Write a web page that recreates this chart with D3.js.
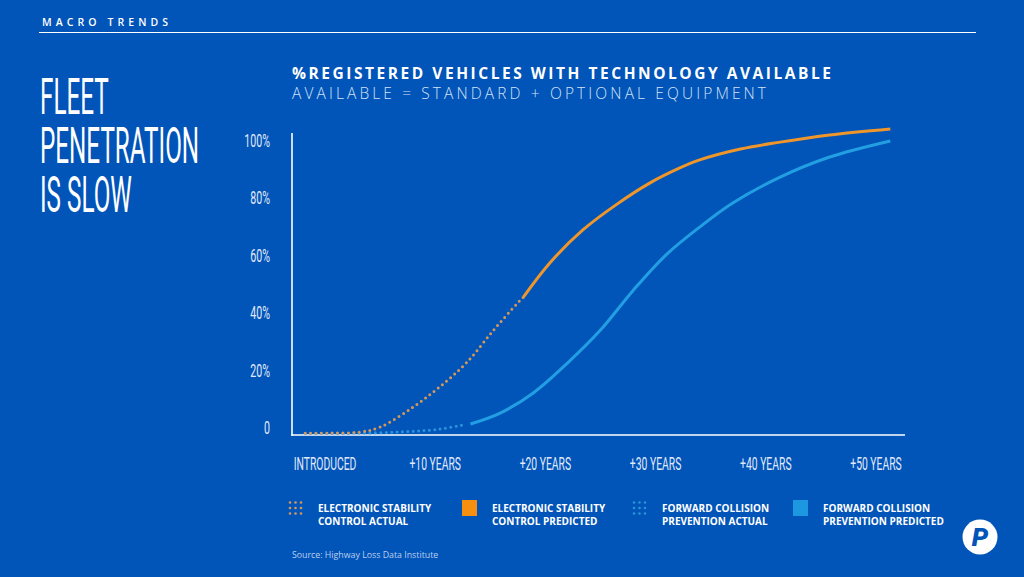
<!DOCTYPE html>
<html>
<head>
<meta charset="utf-8">
<script src="https://cdn.jsdelivr.net/npm/d3@7"></script>
<style>
  html, body { margin: 0; padding: 0; background: #0154b8; }
  svg { display: block; }
</style>
</head>
<body>
<svg id="chart" width="1024" height="577"></svg>
<script>
// ---------- DATA ----------
const xTickValues = [0, 10, 20, 30, 40, 50];
const xTickLabels = ["INTRODUCED", "+10 YEARS", "+20 YEARS", "+30 YEARS", "+40 YEARS", "+50 YEARS"];
const yTickValues = [0, 20, 40, 60, 80, 100];
const yTickLabels = ["0", "20%", "40%", "60%", "80%", "100%"];

// years since introduction
const escActualYears   = [-1.8, 0.5, 3.2, 5.0, 8.0, 10.4, 12.9, 15.3, 17.4, 18.0];
const escActualValues  = [0.3, 0.3, 0.7, 2.4, 9.4, 16.4, 25.1, 36.2, 45.3, 47.7];
const escPredYears     = [18.0, 20.4, 23.4, 26.5, 29.5, 32.2, 34.0, 37.7, 41.3, 45.8, 51.3];
const escPredValues    = [47.7, 59.6, 71.1, 80.1, 87.5, 92.7, 95.5, 99.3, 101.7, 104.2, 106.3];
const fcpActualYears   = [-1.8, 2.3, 6.8, 10.4, 12.4];
const fcpActualValues  = [0.3, 0.3, 0.7, 1.7, 3.1];
const fcpPredYears     = [13.2, 15.9, 18.9, 22.0, 25.0, 28.0, 31.0, 34.0, 37.0, 41.3, 45.8, 51.3];
const fcpPredValues    = [3.5, 7.3, 14.3, 24.7, 36.2, 50.2, 62.6, 72.1, 80.5, 89.5, 96.5, 102.1];

const legendLabels = [
  ["ELECTRONIC STABILITY", "CONTROL ACTUAL"],
  ["ELECTRONIC STABILITY", "CONTROL PREDICTED"],
  ["FORWARD COLLISION", "PREVENTION ACTUAL"],
  ["FORWARD COLLISION", "PREVENTION PREDICTED"]
];

const titleLines = ["FLEET", "PENETRATION", "IS SLOW"];

// ---------- STYLE ----------
const C = {
  bg: "#0154b8",
  orange: "#ee962b",
  orangeDot: "#d6985a",
  orangeSwatch: "#f78f10",
  blue: "#229fe3",
  blueDot: "#2b93dc",
  blueSwatch: "#1b98e0",
  white: "#ffffff",
  pale: "#e0eaf8"
};
const condensed = "Roboto, 'DejaVu Sans', sans-serif";
const geo = "'Open Sans', Lato, 'DejaVu Sans', sans-serif";

const svg = d3.select("#chart");
svg.append("rect").attr("width", 1024).attr("height", 577).attr("fill", C.bg);

// header
svg.append("text")
  .attr("x", 42).attr("y", 25.5)
  .attr("font-family", geo).attr("font-weight", 600).attr("font-size", 10.5)
  .attr("fill", C.white)
  .attr("textLength", 126).attr("lengthAdjust", "spacing")
  .text("MACRO TRENDS");
svg.append("line")
  .attr("x1", 39).attr("x2", 976).attr("y1", 32.5).attr("y2", 32.5)
  .attr("stroke", C.white).attr("stroke-width", 1.2);

// big title (condensed via horizontal scaling), one text block
const titleScale = 0.485;
svg.append("text")
  .attr("transform", `translate(40,113.5) scale(${titleScale},1)`)
  .attr("font-family", condensed).attr("font-weight", 400).attr("font-size", 50)
  .attr("fill", C.white)
  .selectAll("tspan").data(titleLines).join("tspan")
  .attr("x", 0).attr("dy", (d, i) => i === 0 ? 0 : 49.5)
  .text(d => d);

// chart headings
svg.append("text")
  .attr("x", 292).attr("y", 79)
  .attr("font-family", geo).attr("font-weight", 700).attr("font-size", 15.5)
  .attr("fill", C.white)
  .attr("textLength", 539).attr("lengthAdjust", "spacing")
  .text("%REGISTERED VEHICLES WITH TECHNOLOGY AVAILABLE");
svg.append("text")
  .attr("x", 292).attr("y", 99)
  .attr("font-family", geo).attr("font-weight", 300).attr("font-size", 15.5)
  .attr("fill", "#d3e2f6")
  .attr("textLength", 474).attr("lengthAdjust", "spacing")
  .text("AVAILABLE = STANDARD + OPTIONAL EQUIPMENT");

// scales
const x = d3.scaleLinear().domain([0, 50]).range([325, 876]);
const y = d3.scaleLinear().domain([0, 100]).range([434, 147]);
const x0 = 292, x1 = 905, yTop = 133, yBase = 435;

// axes lines
svg.append("line").attr("x1", x0).attr("x2", x0).attr("y1", yTop).attr("y2", yBase + 0.8)
  .attr("stroke", C.white).attr("stroke-width", 1.6);
svg.append("line").attr("x1", x0 - 0.8).attr("x2", x1).attr("y1", yBase).attr("y2", yBase)
  .attr("stroke", C.white).attr("stroke-width", 1.6);

// y tick labels
const scaleX = 0.56;
svg.append("g").selectAll("text").data(yTickValues).join("text")
  .attr("transform", d => `translate(270,${y(d)}) scale(${scaleX},1)`)
  .attr("text-anchor", "end")
  .attr("font-family", condensed).attr("font-weight", 400).attr("font-size", 19)
  .attr("fill", C.pale)
  .text((d, i) => yTickLabels[i]);

// x tick labels
svg.append("g").selectAll("text").data(xTickValues).join("text")
  .attr("transform", d => `translate(${x(d)},470) scale(${scaleX},1)`)
  .attr("text-anchor", "middle")
  .attr("font-family", condensed).attr("font-weight", 400).attr("font-size", 18.5)
  .attr("fill", C.pale)
  .text((d, i) => xTickLabels[i]);

// lines
const line = d3.line().x(d => x(d[0])).y(d => y(d[1])).curve(d3.curveCatmullRom.alpha(0.5));
const zip = (a, b) => a.map((v, i) => [v, b[i]]);

svg.append("path").datum(zip(fcpActualYears, fcpActualValues))
  .attr("d", line).attr("fill", "none")
  .attr("stroke", C.blueDot).attr("stroke-width", 3).attr("stroke-linecap", "round")
  .attr("stroke-dasharray", "0 5.4");
svg.append("path").datum(zip(escActualYears, escActualValues))
  .attr("d", line).attr("fill", "none")
  .attr("stroke", C.orangeDot).attr("stroke-width", 3).attr("stroke-linecap", "round")
  .attr("stroke-dasharray", "0 5.4");
svg.append("path").datum(zip(fcpPredYears, fcpPredValues))
  .attr("d", line).attr("fill", "none")
  .attr("stroke", C.blue).attr("stroke-width", 3);
svg.append("path").datum(zip(escPredYears, escPredValues))
  .attr("d", line).attr("fill", "none")
  .attr("stroke", C.orange).attr("stroke-width", 3);

// legend
const legendX = [288, 462, 632, 793];
const legendKinds = [
  { dotted: true, color: C.orangeDot },
  { dotted: false, color: C.orangeSwatch },
  { dotted: true, color: C.blueDot },
  { dotted: false, color: C.blueSwatch }
];
const lg = svg.append("g").selectAll("g").data(legendLabels).join("g")
  .attr("transform", (d, i) => `translate(${legendX[i]},500)`);
lg.each(function (d, i) {
  const g = d3.select(this);
  const k = legendKinds[i];
  if (k.dotted) {
    const pts = [];
    for (let r = 0; r < 3; r++) for (let c = 0; c < 3; c++) pts.push([c, r]);
    g.selectAll("circle").data(pts).join("circle")
      .attr("cx", p => 2 + p[0] * 5.5).attr("cy", p => 2.5 + p[1] * 5.5)
      .attr("r", 1.3).attr("fill", k.color);
  } else {
    g.append("rect").attr("x", 0).attr("y", 0).attr("width", 15).attr("height", 16)
      .attr("fill", k.color);
  }
  g.selectAll("text").data(d).join("text")
    .attr("x", 30).attr("y", (t, j) => 11.5 + j * 13)
    .attr("font-family", geo).attr("font-weight", 700).attr("font-size", 10)
    .attr("fill", C.white)
    .text(t => t);
});

// source
svg.append("text")
  .attr("x", 292).attr("y", 558)
  .attr("font-family", geo).attr("font-weight", 400).attr("font-size", 8.8)
  .attr("fill", "#bcd0ee")
  .text("Source: Highway Loss Data Institute");

// logo
svg.append("circle").attr("cx", 980).attr("cy", 537).attr("r", 17.5).attr("fill", C.white);
svg.append("text")
  .attr("x", 980).attr("y", 546)
  .attr("text-anchor", "middle")
  .attr("font-family", "Roboto, sans-serif").attr("font-weight", 900).attr("font-style", "italic")
  .attr("font-size", 26).attr("fill", C.bg)
  .text("P");
</script>
</body>
</html>
